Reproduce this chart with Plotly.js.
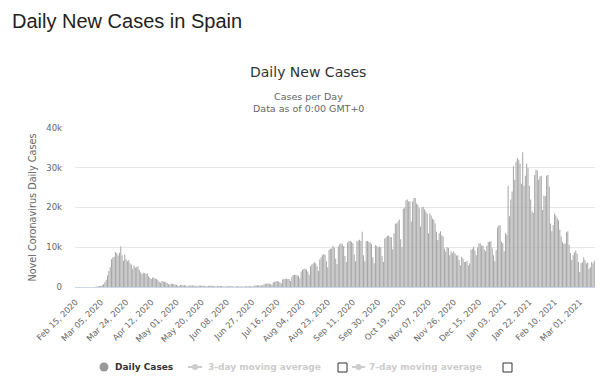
<!DOCTYPE html>
<html>
<head>
<meta charset="utf-8">
<script src="https://cdn.plot.ly/plotly-3.0.1.min.js"></script>
<style>
html,body{margin:0;padding:0;background:#fff;}
#chart{width:600px;height:379px;}
</style>
</head>
<body>
<div id="chart"></div>
<script>
// ---- data (daily new cases, Spain) ----
const firstDay = { year: 2020, month: 1, day: 15 }; // Feb 15, 2020
const feb2020 = [0,0,0,0,0,0,0, 0,0,1,3,6,10,15, 30];
const mar2020 = [45,110,170,240,320,420, 700,1200,1800,2900,4000,5000,7000, 7400,7600,8800,8500,7900,8600,10200, 8000,6600,8100,7000,6500,6700,6000, 5600,4500,5400,4900];
const apr2020 = [5000,5200,4300, 3700,3300,3600,3500,3300,3400,2700, 2300,2000,2400,2300,2100,2000,1700, 1300,1100,1500,1400,1300,1200,1000, 700,550,850,800,700,650];
const may2020 = [500, 350,280,520,480,450,420,380, 250,200,420,400,380,360,330, 230,180,380,350,340,330,300, 200,150,330,310,300,290,260, 180,120];
const jun2020 = [300,280,260,250,220, 130,90,230,220,210,200,180, 100,70,180,170,160,150,130, 100,80,170,160,180,170,160, 200,150,380,400];
const jul2020 = [420,410,380, 450,350,700,800,850,900,850, 700,550,1200,1300,1400,1500,1400, 1200,900,1900,2000,2100,2100,2000, 2000,1500,2600,3000,3100,3000,2900];
const aug2020 = [2800,2200,3900,4300,4500,4600,4400, 3900,3100,5200,5600,5900,6200,6000, 5200,4000,6900,7500,8000,8300,8100, 6500,5000,9300,9600,9700,10400,9900, 7200,5800,10200];
const sep2020 = [10700,11000,10800,10300, 7800,6300,11200,11500,11600,11400,11000, 8200,6500,11500,11700,11900,11600,13900, 8000,6500,11500,11600,11300,11200,10800, 7500,6000,10500,10300,10000];
const oct2020 = [10200,10000, 7800,6300,12200,12500,12800,13000,12600, 12500,9500,13500,16000,16000,16500,17000, 12000,10000,19700,20000,21800,22000,21600, 21500,16500,21500,22300,22400,21000,20700, 19800];
const nov2020 = [15200,20000,20200,19500,19000,18500, 13500,18500,18000,17200,16900,16000,13900, 11800,13500,14000,13000,12700,9700,8900, 10000,9800,8000,8900,8500,8900,8400, 7900,8000,6800];
const dec2020 = [5500,7600,7200,6300, 6300,6600,5500,6000,9300,9600,10100, 9200,8000,10000,11000,11000,10400,10400, 9500,9000,10400,11300,11400,11500,9700, 8000,6500,9300,15000,15600,15500];
const jan2021 = [11400, 11000,9000,13500,13200,25500,17800,22000, 24000,30400,27000,31500,32500,32000,31000, 26000,33900,25500,28000,31000,30000,25500, 22000,19000,18600,28200,29500,29300,27000, 27800,28000];
const feb2021 = [19400,23000,22800,28000,28200, 25300,16000,14000,15600,18500,18000,17300, 16800,14400,12700,11300,10800,11000,13800, 14000,10600,8500,6800,8000,8700,9200, 8400,6300];
const mar2021 = [3800,6000,6200,7500,6800,5900,6200,4600,5000,6300,5900,6600];

const tickLabels = ["Feb 15, 2020","Mar 05, 2020","Mar 24, 2020","Apr 12, 2020","May 01, 2020","May 20, 2020","Jun 08, 2020","Jun 27, 2020","Jul 16, 2020","Aug 04, 2020","Aug 23, 2020","Sep 11, 2020","Sep 30, 2020","Oct 19, 2020","Nov 07, 2020","Nov 26, 2020","Dec 15, 2020","Jan 03, 2021","Jan 22, 2021","Feb 10, 2021","Mar 01, 2021"];
const yTickVals = [0, 10000, 20000, 30000, 40000];
const yTickText = ["0", "10k", "20k", "30k", "40k"];
const legendLabels = ["Daily Cases", "3-day moving average", "7-day moving average"];

// ---- build ----
const dailyCases = [].concat(feb2020, mar2020, apr2020, may2020, jun2020, jul2020, aug2020, sep2020, oct2020, nov2020, dec2020, jan2021, feb2021, mar2021);
const monthNames = ["Jan","Feb","Mar","Apr","May","Jun","Jul","Aug","Sep","Oct","Nov","Dec"];
function dayLabel(i) {
  const d = new Date(Date.UTC(firstDay.year, firstDay.month, firstDay.day + i));
  return monthNames[d.getUTCMonth()] + " " + String(d.getUTCDate()).padStart(2, "0") + ", " + d.getUTCFullYear();
}
const dates = dailyCases.map((_, i) => dayLabel(i));

// pixel helpers (plot area: x 75..595, y 128..287)
const L = 75, R = 595, T = 128, B = 287;
const px = v => (v - L) / (R - L);
const py = v => (B - v) / (B - T);

const FONT = "DejaVu Sans, Verdana, sans-serif";

const annotations = [
  { text: "Daily New Cases", x: px(308), y: py(72), xref: "paper", yref: "paper", xanchor: "center", yanchor: "middle", showarrow: false, font: { family: FONT, size: 14, color: "#333" } },
  { text: "Cases per Day", x: px(308), y: py(96), xref: "paper", yref: "paper", xanchor: "center", yanchor: "middle", showarrow: false, font: { family: FONT, size: 9.5, color: "#666" } },
  { text: "Data as of 0:00 GMT+0", x: px(308), y: py(108), xref: "paper", yref: "paper", xanchor: "center", yanchor: "middle", showarrow: false, font: { family: FONT, size: 9.5, color: "#666" } },
  { text: "<b>" + legendLabels[0] + "</b>", x: px(113), y: py(367), xref: "paper", yref: "paper", xanchor: "left", yanchor: "middle", showarrow: false, font: { family: FONT, size: 9, color: "#333" } },
  { text: "<b>" + legendLabels[1] + "</b>", x: px(206), y: py(367), xref: "paper", yref: "paper", xanchor: "left", yanchor: "middle", showarrow: false, font: { family: FONT, size: 9, color: "#cccccc" } },
  { text: "<b>" + legendLabels[2] + "</b>", x: px(367), y: py(367), xref: "paper", yref: "paper", xanchor: "left", yanchor: "middle", showarrow: false, font: { family: FONT, size: 9, color: "#cccccc" } }
];

const shapes = [
  { type: "circle", xref: "paper", yref: "paper", x0: px(99.5), x1: px(108.5), y0: py(371.5), y1: py(362.5), fillcolor: "#999", line: { width: 0 } },
  { type: "line", xref: "paper", yref: "paper", x0: px(188), x1: px(202), y0: py(367), y1: py(367), line: { color: "#cccccc", width: 2 } },
  { type: "circle", xref: "paper", yref: "paper", x0: px(192), x1: px(198), y0: py(370), y1: py(364), fillcolor: "#cccccc", line: { width: 0 } },
  { type: "rect", xref: "paper", yref: "paper", x0: px(338), x1: px(347), y0: py(372), y1: py(363), fillcolor: "#fff", line: { color: "#333", width: 1 } },
  { type: "line", xref: "paper", yref: "paper", x0: px(352), x1: px(365), y0: py(367), y1: py(367), line: { color: "#cccccc", width: 2 } },
  { type: "circle", xref: "paper", yref: "paper", x0: px(355.5), x1: px(361.5), y0: py(370), y1: py(364), fillcolor: "#cccccc", line: { width: 0 } },
  { type: "rect", xref: "paper", yref: "paper", x0: px(503), x1: px(512), y0: py(372), y1: py(363), fillcolor: "#fff", line: { color: "#333", width: 1 } }
];

const trace = {
  type: "bar",
  x: dates,
  y: dailyCases,
  name: legendLabels[0],
  marker: { color: "#a8a8a8", line: { width: 0 } },
  hoverinfo: "x+y",
  showlegend: false
};

const layout = {
  width: 600, height: 379,
  paper_bgcolor: "#fff", plot_bgcolor: "#fff",
  margin: { l: L, r: 600 - R, t: T, b: 379 - B, pad: 0 },
  title: { text: "Daily New Cases in Spain", xref: "container", yref: "container", x: 12 / 600, xanchor: "left", y: 1 - 21 / 379, yanchor: "middle", font: { family: "Liberation Sans, Arial, sans-serif", size: 20, color: "#222" } },
  bargap: 0.22,
  showlegend: false,
  xaxis: {
    type: "category",
    range: [-0.5, dailyCases.length - 0.5],
    tickvals: tickLabels, ticktext: tickLabels,
    tickangle: -45,
    tickfont: { family: FONT, size: 8.3, color: "#666" },
    ticks: "outside", ticklen: 6, tickcolor: "rgba(0,0,0,0)",
    showgrid: false, zeroline: false,
    showline: true, linecolor: "#ccd6eb", linewidth: 1,
    automargin: false, fixedrange: true
  },
  yaxis: {
    range: [0, 40000],
    tickvals: yTickVals, ticktext: yTickText,
    tickfont: { family: FONT, size: 8.5, color: "#666" },
    ticks: "", ticklabelstandoff: 12,
    showgrid: true, gridcolor: "#e6e6e6", gridwidth: 1,
    zeroline: false, showline: false,
    title: { text: "Novel Coronavirus Daily Cases", font: { family: FONT, size: 9.7, color: "#666" }, standoff: 7 },
    automargin: false, fixedrange: true
  },
  annotations: annotations,
  shapes: shapes
};

Plotly.newPlot("chart", [trace], layout, { displayModeBar: false, staticPlot: true });
</script>
</body>
</html>
